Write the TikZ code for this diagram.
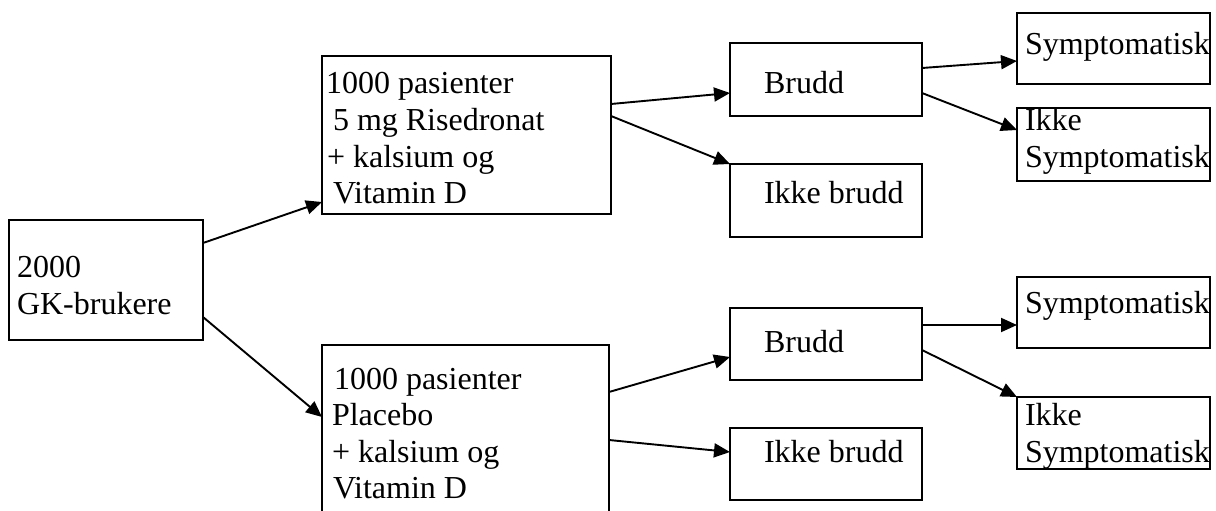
\documentclass[tikz,border=0pt]{standalone}
\usepackage{fontspec}
\setmainfont{Liberation Serif}
\usetikzlibrary{arrows.meta,calc}
\begin{document}
\begin{tikzpicture}[x=1pt,y=-1pt,
 box/.style={draw=black,line width=2pt,rectangle,inner sep=0pt,outer sep=0pt},
 wide/.style={box,minimum width=192pt,minimum height=72pt},
 side/.style={box,minimum width=193pt,minimum height=72pt},
 txt/.style={anchor=base west,inner sep=0pt,outer sep=0pt,font=\fontsize{32}{37}\selectfont},
 conn/.style={line width=1.9pt,-{Triangle[length=16pt,width=14pt]}}]
\useasboundingbox (0,0) rectangle (1216,511);
% boxes
\node[box,minimum width=194pt,minimum height=120pt] (gk) at (106,280) {};
\node[box,minimum width=289pt,minimum height=158pt] (m1) at (466.5,135) {};
\node[box,minimum width=287pt,minimum height=180pt] (m2) at (465.5,435) {};
\node[wide,minimum height=73pt] (b1) at (826,79.5) {};
\node[wide,minimum height=73pt] (ib1) at (826,200.5) {};
\node[wide] (b2) at (826,344) {};
\node[wide] (ib2) at (826,464) {};
\node[side,minimum height=71pt] (s1) at (1113.5,48.5) {};
\node[side,minimum height=73pt] (is1) at (1113.5,144.5) {};
\node[side,minimum height=71pt] (s2) at (1113.5,312.5) {};
\node[side] (is2) at (1113.5,433) {};
% texts
\node[txt] (gkA) at (17,277) {2000};
\node[txt] (gkB) at (17,314) {GK-brukere};
\node[txt] (m1A) at (326,93) {1000 pasienter};
\node[txt] (m1B) at (333,130) {5 mg Risedronat};
\node[txt] (m1C) at (327,167) {+ kalsium og};
\node[txt] (m1D) at (333,203) {Vitamin D};
\node[txt] (m2A) at (334,389) {1000 pasienter};
\node[txt] (m2B) at (332,425) {Placebo};
\node[txt] (m2C) at (332,462) {+ kalsium og};
\node[txt] (m2D) at (333,498) {Vitamin D};
\node[txt] (b1t) at (764,93) {Brudd};
\node[txt] (ib1t) at (764,203) {Ikke brudd};
\node[txt] (b2t) at (764,352) {Brudd};
\node[txt] (ib2t) at (764,462) {Ikke brudd};
\node[txt] (s1t) at (1025,55) {Symptomatisk};
\node[txt] (is1A) at (1025,130) {Ikke};
\node[txt] (is1B) at (1025,167) {Symptomatisk};
\node[txt] (s2t) at (1025,313) {Symptomatisk};
\node[txt] (is2A) at (1025,425) {Ikke};
\node[txt] (is2B) at (1025,462) {Symptomatisk};
% connectors
\draw[conn] ($(gk.north east)+(0,23)$) -- ($(m1.south west)+(0,-12)$);
\draw[conn] ($(gk.north east)+(0,97)$) -- ($(m2.north west)+(0,72)$);
\draw[conn] ($(m1.north east)+(0,48)$) -- ($(b1.north west)+(0,50)$);
\draw[conn] ($(m1.north east)+(0,60)$) -- (ib1.north west);
\draw[conn] ($(m2.north east)+(0,47)$) -- ($(b2.north west)+(0,49)$);
\draw[conn] ($(m2.north east)+(0,95)$) -- ($(ib2.north west)+(0,24)$);
\draw[conn] ($(b1.north east)+(0,25)$) -- ($(s1.north west)+(0,48)$);
\draw[conn] ($(b1.north east)+(0,50)$) -- ($(is1.north west)+(0,22)$);
\draw[conn] ($(b2.north east)+(0,17)$) -- ($(s2.north west)+(0,48)$);
\draw[conn] ($(b2.north east)+(0,42)$) -- (is2.north west);
\end{tikzpicture}
\end{document}
